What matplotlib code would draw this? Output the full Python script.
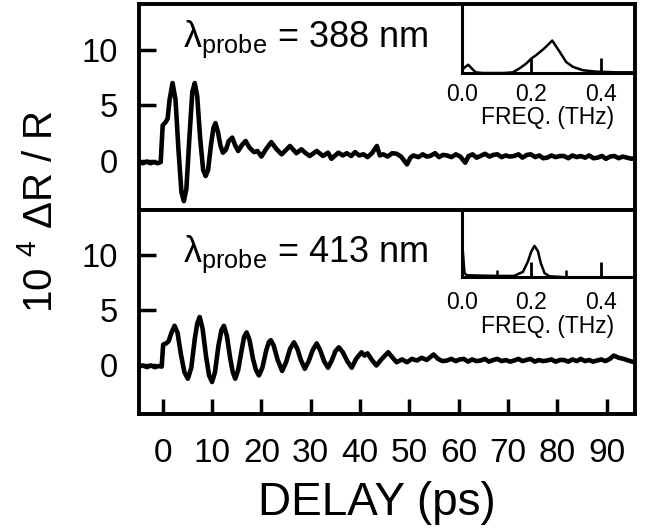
import numpy as np
import matplotlib
matplotlib.use("Agg")
import matplotlib.pyplot as plt
from matplotlib.ticker import MultipleLocator

plt.rcParams['font.family'] = ['Liberation Sans', 'DejaVu Sans']
plt.rcParams['mathtext.fontset'] = 'custom'
plt.rcParams['mathtext.rm'] = 'Liberation Sans'
plt.rcParams['mathtext.it'] = 'Liberation Sans:italic'
plt.rcParams['mathtext.bf'] = 'Liberation Sans:bold'

# # Reflectivity transients, 10^4 dR/R vs delay (ps)
t_388 = [-4.8, -4.0, -3.2, -2.5, -1.8, -1.0, -0.4,
         0.0, 0.6, 1.0, 1.4, 2.0, 2.6, 3.2, 3.8, 4.3, 4.8, 5.4, 6.0, 6.5, 7.0,
         7.6, 8.2, 8.7, 9.2, 9.8, 10.3, 10.7, 11.2, 11.7, 12.2, 12.8, 13.4, 14.1,
         14.7, 15.3, 16.0, 16.8, 17.6, 18.5, 19.2, 20.0, 21.0, 22.0, 23.0, 24.1,
         25.0, 25.8, 26.5, 27.1, 28.1, 29.0, 29.8, 31.2, 32.5, 33.5, 34.2, 35.6,
         36.5, 37.3, 38.2, 39.0, 39.8, 40.7, 41.5, 42.4, 43.4, 44.0, 44.7, 45.6,
         46.5, 47.4, 48.3, 49.5, 50.2, 50.8, 51.8, 52.7, 53.5, 54.2, 55.2, 56.0,
         56.8, 57.6, 58.5, 59.4, 60.3, 61.3, 62.0, 62.8, 63.6, 64.4, 65.3, 66.2,
         67.0, 67.8, 68.7, 69.5, 70.3, 71.2, 72.1, 72.9, 73.8, 74.6, 75.5, 76.3,
         77.1, 77.9, 78.8, 79.6, 80.5, 81.3, 82.2, 83.0, 83.9, 84.7, 85.6, 86.4,
         87.3, 88.1, 89.0, 89.8, 90.7, 91.5, 92.4, 93.2, 94.1, 95.0, 95.7]
dr_388 = [-0.1, -0.2, -0.05, -0.2, -0.1, -0.2, -0.1,
          3.2, 3.5, 3.8, 5.5, 7.0, 5.5, 1.0, -2.8, -3.6, -2.5, 2.0, 6.2, 7.0, 5.8,
          2.0, -0.8, -1.35, -0.8, 1.5, 3.0, 3.4, 2.6, 1.4, 0.75, 1.0, 1.8, 2.1,
          1.4, 0.9, 1.4, 1.8, 1.2, 0.8, 0.9, 0.4, 1.1, 1.7, 1.1, 0.6,
          1.0, 1.35, 1.0, 0.7, 1.05, 0.7, 0.45, 0.9, 0.45, 0.75, 0.2, 0.75,
          0.5, 0.7, 0.45, 0.8, 0.5, 0.6, 0.35, 0.7, 1.35, 0.5, 0.6, 0.4,
          0.7, 0.65, 0.4, -0.3, 0.3, 0.5, 0.35, 0.6, 0.4, 0.45, 0.7, 0.35,
          0.55, 0.5, 0.35, 0.6, 0.4, -0.15, 0.45, 0.6, 0.3, 0.45, 0.65, 0.4,
          0.55, 0.6, 0.35, 0.5, 0.4, 0.45, 0.6, 0.3, 0.55, 0.6, 0.35, 0.5,
          0.25, 0.3, 0.5, 0.35, 0.45, 0.45, 0.25, 0.5, 0.35, 0.45, 0.3, 0.5,
          0.25, 0.3, 0.45, 0.2, 0.4, 0.45, 0.25, 0.4, 0.3, 0.2, 0.25]

t_413 = [-4.8, -4.0, -3.2, -2.4, -1.6, -0.8, -0.2,
         0.1, 0.7, 1.2, 1.8, 2.4, 3.0, 3.7, 4.4, 5.1, 5.8, 6.5, 7.0, 7.5, 8.1,
         8.8, 9.4, 10.0, 10.6, 11.3, 11.9, 12.4, 13.0, 13.7, 14.2, 14.7, 15.3,
         16.0, 16.5, 17.0, 17.6, 18.3, 18.9, 19.5, 20.2, 21.0, 21.5, 21.9, 22.5,
         23.3, 24.2, 25.0, 25.8, 26.6, 27.3, 28.0, 28.8, 29.6, 30.4, 31.2, 31.9,
         32.7, 33.5, 34.3, 35.0, 35.7, 36.5, 37.4, 38.3, 39.2, 40.3, 40.9, 41.5,
         42.4, 43.3, 44.4, 45.7, 46.6, 47.4, 48.5, 49.5, 50.5, 51.5, 52.5, 53.5,
         54.9, 55.8, 56.7, 57.6, 58.5, 59.4, 60.2, 61.0, 61.9, 62.7, 63.6, 64.4,
         65.3, 66.1, 67.0, 67.8, 68.7, 69.5, 70.4, 71.2, 72.1, 72.9, 73.7, 74.5,
         75.4, 76.2, 77.1, 77.9, 78.8, 79.6, 80.5, 81.3, 82.2, 83.0, 83.9, 84.7,
         85.6, 86.4, 87.2, 88.0, 88.9, 89.7, 90.6, 91.4, 92.4, 93.4, 94.4, 95.5]
dr_413 = [-0.1, 0.0, -0.15, 0.0, -0.15, -0.05, -0.1,
          1.9, 2.0, 2.2, 3.0, 3.6, 3.0, 1.0, -0.6, -1.2, -0.2, 2.4, 3.8, 4.4, 3.3,
          0.8, -0.9, -1.5, -0.6, 1.8, 3.2, 3.6, 2.7, 0.6, -0.6, -1.2, -0.4,
          1.4, 2.6, 3.0, 2.3, 0.6, -0.4, -0.9, -0.2, 1.4, 2.1, 2.3, 1.8,
          0.5, -0.5, 0.3, 1.5, 2.1, 1.5, 0.5, -0.3, 0.4, 1.4, 2.0, 1.4,
          0.4, -0.2, 0.5, 1.3, 1.65, 1.2, 0.4, -0.2, 0.6, 1.2, 0.9, 1.1,
          0.5, 0.0, 0.6, 1.2, 0.7, 0.3, 0.55, 0.3, 0.6, 0.45, 0.7, 0.5,
          1.0, 0.6, 0.4, 0.45, 0.6, 0.4, 0.55, 0.6, 0.35, 0.55, 0.4, 0.45,
          0.6, 0.35, 0.5, 0.6, 0.4, 0.5, 0.35, 0.45, 0.6, 0.4, 0.5, 0.6,
          0.35, 0.5, 0.4, 0.45, 0.55, 0.35, 0.5, 0.5, 0.35, 0.55, 0.4, 0.6,
          0.4, 0.5, 0.35, 0.45, 0.55, 0.4, 0.6, 0.9, 0.7, 0.6, 0.45, 0.3]

# # Fourier spectra (arb. units) for the insets
f_388 = [0.0, 0.008, 0.019, 0.03, 0.04, 0.06, 0.09, 0.12, 0.147, 0.167, 0.186,
         0.2, 0.214, 0.238, 0.26, 0.281, 0.3, 0.319, 0.348, 0.386, 0.443, 0.495]
s_388 = [0.03, 0.08, 0.12, 0.06, 0.01, 0.0, 0.0, 0.0, 0.01, 0.07, 0.14,
         0.21, 0.26, 0.36, 0.47, 0.31, 0.16, 0.09, 0.04, 0.02, 0.01, 0.01]
f_413 = [0.0, 0.003, 0.008, 0.015, 0.05, 0.1, 0.15, 0.176, 0.19, 0.2, 0.209,
         0.219, 0.227, 0.238, 0.252, 0.3, 0.4, 0.495]
s_413 = [1.5, 0.4, 0.06, 0.03, 0.025, 0.02, 0.02, 0.08, 0.23, 0.38, 0.46,
         0.38, 0.21, 0.06, 0.015, 0.0, 0.0, 0.0]

panels = [
    (t_388, dr_388, f_388, s_388, '388', [0.2145, 0.6045, 0.7654, 0.388],
     [0.7125, 0.8625, 0.266, 0.130], 7, 0.791, False),
    (t_413, dr_413, f_413, s_413, '413', [0.2145, 0.2203, 0.7654, 0.3842],
     [0.7125, 0.4778, 0.266, 0.1286], 10, 0.746, True),
]

fig = plt.figure(figsize=(6.48, 5.31), dpi=100)

for t, dr, f, s, wl, rect, inset_rect, inset_pad, text_y, bottom in panels:
    ax = fig.add_axes(rect)
    ax.plot(t, dr, color='black', lw=3.3, solid_joinstyle='round')
    ax.set_xlim(-4.8, 95.7)
    ax.set_ylim(-4.4, 14.1)
    ax.set_yticks([0, 5, 10])
    ax.set_xticks(np.arange(0, 91, 10))
    for sp in ax.spines.values():
        sp.set_linewidth(2.8)
    ax.tick_params(axis='y', direction='in', length=12, width=2.5,
                   labelsize=23.5, pad=15)
    ax.tick_params(axis='x', direction='in', length=11, width=2.5,
                   labelsize=24, pad=17, bottom=bottom, labelbottom=bottom)
    ax.text(0.088, text_y, r'$\mathrm{λ}_{\mathrm{probe}}$ = ' + wl + ' nm',
            transform=ax.transAxes, fontsize=26, va='baseline', ha='left')

    # # FFT inset in the upper right corner
    ins = fig.add_axes(inset_rect)
    ins.patch.set_alpha(0)
    ins.plot(f, s, color='black', lw=1.8)
    ins.set_xlim(0, 0.495)
    ins.set_ylim(0, 1)
    ins.spines['top'].set_visible(False)
    ins.spines['right'].set_visible(False)
    ins.spines['left'].set_linewidth(2.2)
    ins.spines['bottom'].set_linewidth(2.2)
    ins.set_yticks([])
    ins.set_xticks([0.0, 0.2, 0.4])
    ins.set_xticklabels(['0.0', '0.2', '0.4'])
    if bottom:
        ins.xaxis.set_minor_locator(MultipleLocator(0.1))
        ins.tick_params(axis='x', which='minor', direction='in', length=5, width=1.8)
    ins.tick_params(axis='x', direction='in', length=11, width=2, labelsize=16.5,
                    pad=inset_pad)
    ins.set_xlabel('FREQ. (THz)', fontsize=16.5, labelpad=0.5)

fig.text(41 / 648, 1 - 212 / 531, r'10 $^{\mathrm{4}}$ ΔR / R', rotation=90,
         fontsize=29, ha='center', va='center')
fig.text(377 / 648, 1 - 503 / 531, 'DELAY (ps)', fontsize=33,
         ha='center', va='center')

plt.savefig('out.png', dpi=100)
